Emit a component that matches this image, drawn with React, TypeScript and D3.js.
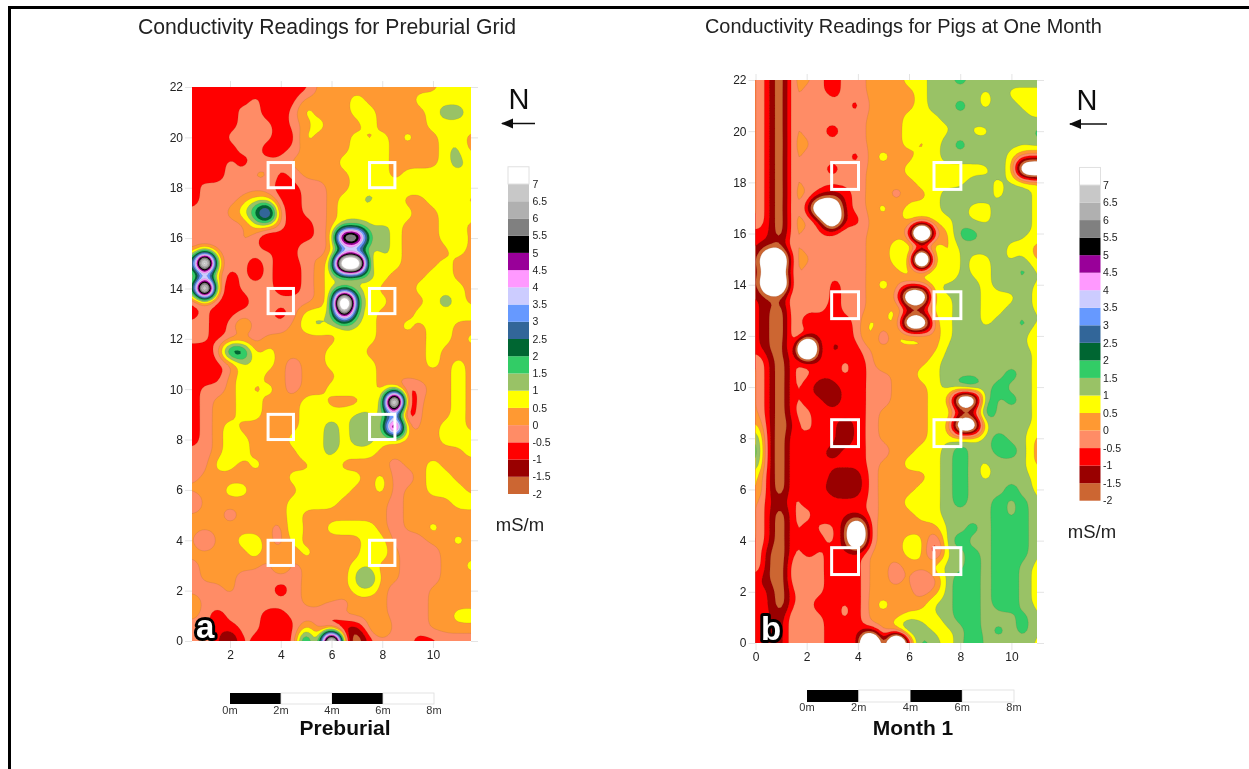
import React, { useEffect, useMemo, useRef } from "react";
import * as d3 from "d3";

// conductivity in mS/m, one short name per colour band
// (spot peaks are set past the scale ends, they get softened by the contour smoothing)
const X = -8, Z = -4.5, Q = -3, N = -2.1, D = -1.4, R = -0.8, S = -0.3, O = 0.2, Y = 0.85, G = 1.2, E = 1.9;
const F = 2.25, B = 3, L = 3.5, V = 4.5, P = 5, U = 6, K = 6.5, H = 7, W = 8.5, T = 13;

const levels = [-2, -1.5, -1, -0.5, 0, 0.5, 1, 1.5, 2, 2.5, 3, 3.5, 4, 4.5, 5, 5.5, 6, 6.5, 7];
const bandColors = [
  "#cc6633", "#990000", "#ff0000", "#ff8c66", "#ff9933", "#ffff00", "#99c266", "#33cc66", "#006633", "#336699",
  "#6699ff", "#ccccff", "#ff99ff", "#990099", "#000000", "#808080", "#b0b0b0", "#c8c8c8", "#ffffff",
];
const legendLabels = ["7", "6.5", "6", "5.5", "5", "4.5", "4", "3.5", "3", "2.5", "2", "1.5", "1", "0.5", "0", "-0.5", "-1", "-1.5", "-2"];

// rows run from y=22 down to y=0 in 0.5 m steps, columns are 0.5 m apart
const preburialRows = [
  [R,R,R,R,R, R,R,R,R,R, O,O,O,O,O, O,O,O,O,O, Y,Y,Y],
  [R,S,R,S,R, S,R,R,R,O, O,O,O,Y,O, O,O,O,Y,Y, Y,Y,Y],
  [R,R,R,R,S, S,R,R,S,Y, O,O,O,Y,Y, O,O,O,O,Y, G,G,Y],
  [R,R,R,R,S, S,S,R,S,O, Y,O,O,O,Y, O,O,O,O,Y, Y,Y,Y],
  [S,R,R,S,S, S,S,R,R,Y, O,O,O,Y,O, Y,O,Y,O,O, Y,Y,O],
  [R,R,R,R,S, S,R,R,S,O, O,O,O,Y,Y, Y,O,O,O,O, Y,G,O],
  [R,R,R,S,R, S,S,S,O,O, O,O,Y,Y,Y, Y,O,O,O,O, Y,G,Y],
  [S,R,R,S,S, O,O,R,S,O, O,O,O,Y,Y, Y,O,Y,Y,Y, Y,Y,Y],
  [R,S,S,S,S, S,S,R,R,S, S,O,O,Y,Y, Y,Y,Y,Y,Y, Y,Y,Y],
  [R,S,S,S,O, Y,Y,R,R,S, S,O,Y,Y,G, Y,Y,O,O,Y, Y,Y,O],
  [S,S,S,O,Y, F,V,S,R,S, S,O,Y,Y,Y, O,Y,Y,O,O, Y,Y,Y],
  [S,S,S,S,S, Y,Y,S,R,R, S,O,Y,Y,Y, G,Y,O,O,O, Y,Y,O],
  [S,S,S,S,O, S,D,R,R,R, S,O,W,W,G, G,Y,O,O,O, Y,G,O],
  [S,Y,S,S,S, S,S,R,R,O, S,O,G,G,Y, G,Y,O,O,O, O,Y,O],
  [Y,T,Y,S,S, R,S,R,R,S, O,Y,T,T,O, Y,Y,O,O,O, Y,O,O],
  [O,G,O,R,S, R,S,R,R,S, O,Y,Y,Y,G, Y,O,O,O,Y, Y,O,O],
  [O,T,O,R,S, S,S,R,R,S, O,Y,Y,Y,Y, O,O,O,Y,Y, Y,Y,O],
  [R,S,R,R,R, S,S,S,S,S, O,Y,T,E,Y, Y,O,O,O,Y, G,Y,O],
  [R,S,R,R,S, S,S,R,S,Y, Y,Y,H,G,Y, O,O,O,Y,Y, Y,Y,Y],
  [S,S,R,S,Y, S,S,S,O,Y, G,Y,Y,Y,Y, O,O,Y,O,Y, Y,O,O],
  [S,S,R,S,S, S,O,O,O,O, O,O,Y,Y,Y, O,O,O,O,Y, Y,O,Y],
  [R,R,S,B,B, O,Y,O,O,O, O,Y,Y,Y,O, O,O,O,O,Y, O,O,O],
  [R,R,R,S,Y, Y,Y,O,S,O, O,Y,Y,Y,Y, O,O,O,O,Y, O,Y,O],
  [R,R,R,O,Y, Y,O,O,S,O, O,O,Y,Y,Y, O,O,O,O,O, O,Y,O],
  [R,S,S,O,Y, O,Y,O,S,O, O,Y,Y,Y,Y, O,O,R,S,O, O,Y,O],
  [R,S,O,O,Y, Y,O,O,O,Y, Y,O,O,O,Y, O,T,D,O,O, O,Y,O],
  [R,S,O,O,Y, Y,O,O,O,Y, Y,Y,Y,G,G, Y,F,D,O,O, O,Y,O],
  [R,S,O,Y,O, O,O,O,O,Y, Y,G,Y,G,G, Y,W,S,O,O, Y,Y,O],
  [R,S,O,Y,Y, O,O,O,Y,Y, Y,G,Y,G,G, Y,O,O,O,O, Y,Y,Y],
  [S,S,O,Y,Y, O,O,O,O,G, Y,G,Y,Y,Y, O,O,O,O,O, O,O,Y],
  [S,S,Y,Y,O, Y,O,O,O,O, Y,Y,O,O,O, O,S,O,O,Y, O,O,O],
  [S,O,O,O,O, O,O,O,Y,Y, Y,Y,Y,Y,O, Y,S,S,O,Y, Y,O,O],
  [O,O,O,Y,Y, O,O,O,O,Y, Y,Y,Y,O,O, Y,S,O,O,Y, Y,Y,O],
  [R,O,O,O,O, O,O,O,Y,Y, Y,Y,O,O,O, O,S,O,O,O, O,Y,Y],
  [O,O,O,S,O, O,O,O,Y,O, O,O,O,O,O, O,S,O,O,O, O,O,O],
  [O,O,O,O,O, O,O,S,G,O, O,Y,Y,Y,Y, O,S,O,O,Y, O,O,O],
  [O,R,O,O,Y, Y,O,S,Y,O, O,O,O,O,Y, Y,S,S,S,O, O,Y,O],
  [O,O,O,O,O, Y,O,O,O,Y, O,O,O,O,G, Y,O,S,S,S, O,O,O],
  [S,O,O,O,O, O,S,Y,S,O, O,O,O,Y,Y, O,O,S,S,S, O,O,Y],
  [S,O,O,O,S, S,S,S,S,O, O,O,O,G,E, O,O,S,S,S, O,O,O],
  [S,S,S,O,S, S,S,R,S,O, O,Y,O,Y,Y, O,S,S,S,O, O,O,O],
  [Y,S,S,S,S, S,S,S,S,O, O,S,S,O,O, O,S,S,S,O, O,O,O],
  [O,S,R,S,S, S,R,R,S,S, S,S,O,O,O, O,S,S,S,O, O,Y,Y],
  [S,S,R,R,S, S,R,R,R,Y, S,R,D,D,O, Y,S,S,S,O, O,O,O],
  [S,S,R,N,S, R,R,R,R,L, S,T,O,N,R, S,S,S,R,R, S,S,S],
];

const monthOneRows = [
  [O,R,N,O,O, S,R,S,S,O, O,O,Y,Y,G, G,E,G,G,G, G,G,G],
  [O,R,N,O,S, S,R,S,S,O, O,O,O,Y,G, G,G,G,Y,G, Y,Y,Y],
  [O,R,N,O,S, O,S,S,R,O, O,O,O,Y,G, G,E,G,Y,G, G,Y,Y],
  [O,R,N,O,S, S,S,S,S,O, O,O,Y,Y,Y, G,G,G,G,G, G,G,Y],
  [O,R,N,O,S, S,R,S,S,O, O,O,Y,Y,Y, Y,G,Y,Y,G, G,Y,E],
  [O,R,N,O,O, S,S,S,S,O, O,O,Y,O,Y, G,E,G,G,G, G,G,G],
  [O,R,N,O,S, S,S,S,R,O, Y,O,O,Y,Y, G,G,G,G,G, Y,S,S],
  [O,R,N,O,S, S,R,S,S,O, O,O,Y,Y,Y, Y,Y,Y,Y,G, Y,Z,Z],
  [O,R,N,O,S, S,S,S,S,O, O,O,O,Y,Y, Y,Y,G,G,Y, G,G,Y],
  [O,R,N,O,O, R,D,R,S,O, O,S,O,O,Y, G,G,G,G,Y, G,G,Y],
  [O,R,N,O,R, Z,Z,R,S,O, Y,O,Y,Y,Y, G,G,Y,Y,G, G,G,Y],
  [O,R,N,O,O, R,Z,R,R,O, O,O,Y,Y,Y, Y,G,Y,Y,G, G,G,Y],
  [R,R,N,O,S, S,S,O,S,O, O,O,S,X,S, O,E,E,G,G, G,G,Y],
  [R,D,D,O,S, S,S,S,S,O, O,Y,G,G,G, O,G,G,G,G, Y,Y,O],
  [R,Z,Z,O,O, S,S,S,S,O, O,Y,G,X,G, O,G,Y,Y,G, Y,G,O],
  [R,Q,Q,O,S, S,S,S,S,O, O,O,Y,Y,G, O,G,Y,Y,G, G,E,Y],
  [R,Z,Z,O,S, O,R,S,S,O, Y,O,S,S,Y, G,G,G,Y,G, G,G,Y],
  [R,D,D,O,S, O,R,S,S,O, O,O,Z,Z,Y, Y,G,G,Y,Y, Y,G,Y],
  [R,D,N,O,S, S,R,S,S,O, O,Y,S,S,Y, Y,G,G,Y,Y, G,G,Y],
  [R,D,N,O,D, R,R,R,S,Y, O,Y,Z,Z,O, Y,G,G,Y,G, G,E,Y],
  [R,D,N,O,S, R,R,R,S,Y, R,Y,Y,Y,O, Y,G,G,G,G, G,G,O],
  [R,D,N,O,X, S,D,R,R,O, O,O,O,O,O, G,G,G,G,G, G,G,Y],
  [O,R,N,S,R, R,R,S,R,S, Y,O,O,O,Y, G,G,G,G,G, G,G,Y],
  [O,R,N,S,S, R,R,S,R,S, S,O,O,Y,Y, G,G,G,G,G, E,G,Y],
  [O,R,N,S,R, D,D,R,R,S, S,O,O,O,Y, G,E,F,G,E, G,G,Y],
  [O,R,N,S,R, R,D,R,R,S, S,O,O,O,Y, Y,Z,Z,E,G, E,G,Y],
  [O,R,N,S,S, R,R,R,R,S, O,O,O,O,Y, G,S,S,F,G, G,G,Y],
  [Y,R,N,R,S, R,R,D,R,S, O,O,O,O,Y, Y,Z,Z,G,G, G,G,Y],
  [E,R,N,S,R, S,R,D,R,S, O,O,O,O,Y, Y,Y,G,G,E, G,G,O],
  [F,R,N,S,R, R,D,R,R,S, S,O,O,Y,Y, G,E,G,G,E, E,G,O],
  [E,R,N,S,R, R,R,R,R,S, O,O,Y,Y,Y, G,E,G,Y,G, G,G,O],
  [Y,R,N,S,R, S,D,D,D,S, O,O,O,O,Y, G,E,G,Y,G, G,G,Y],
  [Y,R,N,S,R, R,D,D,D,S, O,O,O,Y,Y, G,E,G,G,G, E,G,Y],
  [O,R,D,S,R, S,R,R,R,S, O,O,Y,Y,Y, G,E,G,G,E, G,E,Y],
  [O,R,N,S,S, R,R,R,R,S, O,O,O,Y,Y, G,G,G,G,E, G,E,Y],
  [O,R,N,S,R, S,S,D,Z,S, O,O,O,O,O, G,G,E,G,E, E,E,Y],
  [O,R,N,S,R, R,S,D,Z,S, O,O,Y,Y,R, G,E,G,G,E, E,E,Y],
  [O,D,N,S,R, S,R,R,R,O, O,O,Y,Y,D, G,G,E,G,E, E,E,Y],
  [O,D,N,O,S, S,R,S,R,O, O,S,O,O,Y, G,G,E,G,E, E,G,Y],
  [R,D,N,O,S, S,R,R,R,O, O,S,O,R,S, G,E,E,G,E, E,G,Y],
  [R,R,N,S,S, S,R,R,R,O, O,O,O,S,O, G,E,E,G,E, E,G,Y],
  [R,R,N,S,S, R,R,S,R,O, Y,O,O,O,G, G,E,E,G,E, E,G,Y],
  [R,R,D,O,S, S,R,S,R,O, O,O,Y,Y,Y, G,E,E,G,G, G,E,Y],
  [R,R,D,O,S, S,R,R,R,R, O,Y,E,G,Y, Y,G,E,G,E, G,E,Y],
  [R,R,D,O,S, S,R,R,S,X, O,X,R,E,G, Y,G,F,G,G, G,G,Y],
];

const xTicksA = [2, 4, 6, 8, 10];
const xTicksB = [0, 2, 4, 6, 8, 10];
const yTicks = d3.range(0, 24, 2);
const scaleStops = [0, 2, 4, 6, 8];
const boxXA = [4, 8];
const boxYA = [18.5, 13.5, 8.5, 3.5];
const boxXB = [3.5, 7.5];
const boxYB = [18.25, 13.2, 8.2, 3.2];

const SANS = "'Liberation Sans', Arial, sans-serif";
const FINE = 5;

// smooth the hand-read grid for contouring, so the bands are not diamond shaped
function crSample(a: number[], i: number, t: number) {
  const at = (k: number) => a[Math.max(0, Math.min(a.length - 1, k))];
  const p0 = at(i - 1), p1 = at(i), p2 = at(i + 1), p3 = at(i + 2);
  const v = 0.5 * (2 * p1 + (p2 - p0) * t + (2 * p0 - 5 * p1 + 4 * p2 - p3) * t * t + (3 * p1 - p0 - 3 * p2 + p3) * t * t * t);
  return Math.max(Math.min(p1, p2), Math.min(Math.max(p1, p2), v));
}

function refine(a: number[]) {
  const out: number[] = [];
  for (let i = 0; i < a.length - 1; i++) for (let s = 0; s < FINE; s++) out.push(crSample(a, i, s / FINE));
  out.push(a[a.length - 1]);
  return out;
}

function fineGrid(rows: number[][]) {
  const wide = rows.map(refine);
  const w = wide[0].length;
  const cols = d3.range(w).map((c) => refine(wide.map((r) => r[c])));
  const h = cols[0].length;
  const values = new Array(w * h);
  for (let y = 0; y < h; y++) for (let x = 0; x < w; x++) values[y * w + x] = cols[x][y];
  d3.blur2({ data: values, width: w }, 1.5);
  return { values, w, h };
}

function ContourMap({ id, rows, x0, x, y }: any) {
  const paths = useMemo(() => {
    const { values, w, h } = fineGrid(rows);
    const contours = d3.contours().size([w, h]).thresholds(levels)(values);
    const project = d3.geoTransform({
      point(px: number, py: number) {
        (this as any).stream.point(x(x0 + ((px - 0.5) / FINE) * 0.5), y(22 - ((py - 0.5) / FINE) * 0.5));
      },
    });
    const path = d3.geoPath(project);
    return contours.map((c, i) => ({ d: path(c as any) as string, fill: bandColors[i] }));
  }, [rows]);

  const [xa, xb] = x.range();
  const [yb, ya] = y.range();
  return (
    <g>
      <clipPath id={id}>
        <rect x={xa} y={ya} width={xb - xa} height={yb - ya} />
      </clipPath>
      <g clipPath={`url(#${id})`}>
        <rect x={xa} y={ya} width={xb - xa} height={yb - ya} fill="#fff" />
        {paths.map((p, i) => (
          <path key={i} d={p.d} fill={p.fill} stroke="#5a4030" strokeOpacity={0.3} strokeWidth={0.4} />
        ))}
      </g>
    </g>
  );
}

function Axes({ x, y, xTicks }: any) {
  const left = useRef<SVGGElement>(null);
  const bottom = useRef<SVGGElement>(null);
  const top = useRef<SVGGElement>(null);
  const right = useRef<SVGGElement>(null);
  const [xa, xb] = x.range();
  const [yb, ya] = y.range();

  useEffect(() => {
    d3.select(left.current).call(d3.axisLeft(y).tickValues(yTicks).tickSize(7).tickPadding(2) as any);
    d3.select(bottom.current).call(d3.axisBottom(x).tickValues(xTicks).tickSize(7).tickPadding(2) as any);
    d3.select(top.current).call(d3.axisTop(x).tickValues(xTicks).tickSize(6).tickFormat(() => "") as any);
    d3.select(right.current).call(d3.axisRight(y).tickValues(yTicks).tickSize(7).tickFormat(() => "") as any);
    [left, bottom, top, right].forEach((r) => {
      const g = d3.select(r.current);
      g.attr("font-family", SANS).attr("font-size", 12);
      g.select(".domain").remove();
      g.selectAll("line").attr("stroke", "#e4e4e4");
      g.selectAll("text").attr("fill", "#222");
    });
  }, []);

  return (
    <g>
      <g ref={left} transform={`translate(${xa},0)`} />
      <g ref={bottom} transform={`translate(0,${yb})`} />
      <g ref={top} transform={`translate(0,${ya})`} />
      <g ref={right} transform={`translate(${xb},0)`} />
    </g>
  );
}

function Boxes({ x, y, xs, ys, size }: any) {
  const w = x(size) - x(0);
  const h = y(0) - y(size);
  return (
    <g fill="none" stroke="#fff" strokeWidth={3}>
      {xs.flatMap((bx: number) =>
        ys.map((by: number) => <rect key={`${bx}-${by}`} x={x(bx) - w / 2} y={y(by) - h / 2} width={w} height={h} />)
      )}
    </g>
  );
}

function Legend({ x, top, bottom, labelX, unitX, unitY }: any) {
  const scale = d3.scaleLinear().domain([-2, 7]).range([bottom, top]);
  const bandH = scale(-2) - scale(-1.5);
  return (
    <g fontFamily={SANS}>
      {bandColors.map((c, i) => (
        <rect key={i} x={x} y={scale(levels[i]) - bandH} width={21} height={bandH} fill={c} />
      ))}
      <rect x={x} y={scale(7) - bandH} width={21} height={bandH} fill="none" stroke="#e0e0e0" strokeWidth={1} />
      {legendLabels.map((t) => (
        <text key={t} x={labelX} y={scale(+t)} dy="0.35em" fontSize={10.5} fill="#222">
          {t}
        </text>
      ))}
      <text x={unitX} y={unitY} dy="0.35em" textAnchor="middle" fontSize={18.5} fill="#222">
        mS/m
      </text>
    </g>
  );
}

function North({ x, y, tail }: any) {
  return (
    <g fontFamily={SANS}>
      <text x={x + 9} y={y} textAnchor="middle" fontSize={29} fill="#111">
        N
      </text>
      <path d={`M${x - 8},${y + 14.5}H${x + tail}`} stroke="#111" strokeWidth={1.4} />
      <path d={`M${x - 9},${y + 14.5}l12,-5v10z`} fill="#111" />
    </g>
  );
}

function ScaleBar({ x0, x1, y, h, labelY, name, nameX }: any) {
  const s = d3.scaleLinear().domain([0, 8]).range([x0, x1]);
  return (
    <g fontFamily={SANS}>
      {scaleStops.slice(0, -1).map((v, i) => (
        <rect key={v} x={s(v)} y={y} width={s(2) - s(0)} height={h} fill={i % 2 ? "#fff" : "#000"} stroke={i % 2 ? "#ddd" : "none"} strokeWidth={0.8} />
      ))}
      {scaleStops.map((v) => (
        <text key={v} x={s(v)} y={labelY} dy="0.35em" textAnchor="middle" fontSize={11} fill="#333">
          {v}m
        </text>
      ))}
      <text x={nameX} y={728} dy="0.35em" textAnchor="middle" fontSize={21} fontWeight="bold" fill="#111">
        {name}
      </text>
    </g>
  );
}

function PanelLetter({ x, y, t }: any) {
  return (
    <text x={x} y={y} fontFamily={SANS} fontSize={33} fontWeight="bold" fill="#fff" stroke="#000" strokeWidth={6} paintOrder="stroke" strokeLinejoin="round">
      {t}
    </text>
  );
}

export default function App() {
  const xA = d3.scaleLinear().domain([0.5, 11.5]).range([192, 471]);
  const yA = d3.scaleLinear().domain([0, 22]).range([641, 87]);
  const xB = d3.scaleLinear().domain([0, 11]).range([755.5, 1037]);
  const yB = d3.scaleLinear().domain([0, 22]).range([643, 80]);

  return (
    <svg width={1249} height={769} style={{ position: "absolute", left: 0, top: 0 }}>
      <defs>
        <filter id="soft" x="0" y="0" width="100%" height="100%">
          <feGaussianBlur stdDeviation={0.45} />
        </filter>
      </defs>
      <g filter="url(#soft)">
        <rect width={1249} height={769} fill="#fff" />
        <path d="M9.5,769V7.5H1249" fill="none" stroke="#000" strokeWidth={3} />

        <text x={138} y={34} fontFamily={SANS} fontSize={21.2} fill="#222">
          Conductivity Readings for Preburial Grid
        </text>
        <text x={705} y={33} fontFamily={SANS} fontSize={19.9} fill="#222">
          Conductivity Readings for Pigs at One Month
        </text>

        <Axes x={xA} y={yA} xTicks={xTicksA} />
        <ContourMap id="clipA" rows={preburialRows} x0={0.5} x={xA} y={yA} />
        <Boxes x={xA} y={yA} xs={boxXA} ys={boxYA} size={1} />
        <PanelLetter x={196} y={638} t="a" />

        <Axes x={xB} y={yB} xTicks={xTicksB} />
        <ContourMap id="clipB" rows={monthOneRows} x0={0} x={xB} y={yB} />
        <Boxes x={xB} y={yB} xs={boxXB} ys={boxYB} size={1.05} />
        <PanelLetter x={761} y={640} t="b" />

        <North x={510} y={109} tail={25} />
        <North x={1078} y={109.5} tail={29} />

        <Legend x={508} top={184} bottom={494} labelX={532.5} unitX={520} unitY={525} />
        <Legend x={1079.5} top={185} bottom={500.7} labelX={1103} unitX={1092} unitY={531.7} />

        <ScaleBar x0={230} x1={434} y={693} h={11} labelY={710} name="Preburial" nameX={345} />
        <ScaleBar x0={807} x1={1014} y={690} h={12} labelY={707.5} name="Month 1" nameX={913} />
      </g>
    </svg>
  );
}
